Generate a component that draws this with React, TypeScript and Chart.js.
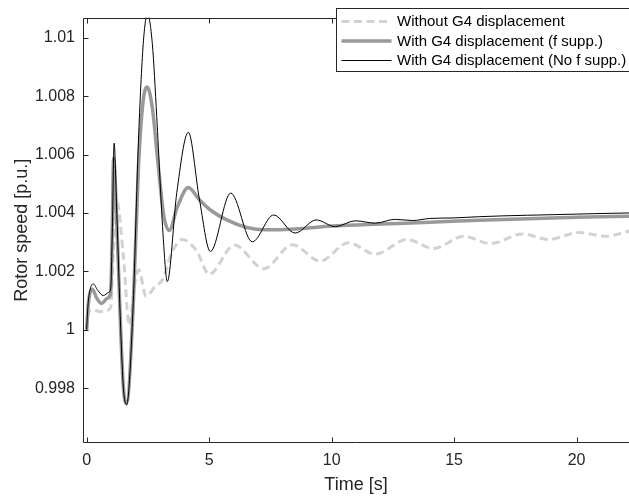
import React, { useEffect, useRef } from "react";
import { Chart, registerables } from "chart.js";

Chart.register(...registerables);

// ---- data ----
const timeNoG4 = [0, 0.05, 0.12, 0.27, 0.55, 0.8, 0.98, 1.08, 1.23, 1.5, 1.74, 1.97, 2.13, 2.42, 2.79, 3.13, 3.4, 3.9, 4.49, 5.0, 6.03, 7.23, 8.4, 9.53, 10.69, 11.78, 13.08, 14.16, 15.39, 16.48, 17.78, 18.86, 20.09, 21.18, 22.2];
const speedNoG4 = [1.0, 1.0004, 1.00065, 1.00068, 1.00062, 1.00066, 1.00075, 1.0025, 1.0044, 1.0025, 1.00015, 1.0016, 1.00205, 1.00115, 1.00148, 1.00176, 1.00248, 1.00309, 1.0027, 1.0019, 1.0029, 1.00209, 1.00291, 1.00235, 1.00298, 1.00259, 1.00309, 1.00278, 1.0032, 1.00295, 1.00328, 1.00309, 1.00333, 1.0032, 1.00339];

const timeFSupp = [0, 0.05, 0.12, 0.23, 0.4, 0.6, 0.85, 0.98, 1.04, 1.1, 1.23, 1.39, 1.5, 1.63, 1.9, 2.11, 2.3, 2.47, 2.68, 2.9, 3.15, 3.37, 3.7, 4.15, 4.6, 5.05, 5.72, 6.54, 7.3, 8.5, 10, 12, 14, 16, 18, 20, 22.2];
const speedFSupp = [1.0, 1.0007, 1.0012, 1.00139, 1.0011, 1.0009, 1.00108, 1.00126, 1.0032, 1.00587, 1.0037, 0.99995, 0.998, 0.99749, 1.0008, 1.0055, 1.0078, 1.00831, 1.0076, 1.0058, 1.0039, 1.0034, 1.0042, 1.00487, 1.00445, 1.0041, 1.00376, 1.0035, 1.00342, 1.00345, 1.00355, 1.00362, 1.00368, 1.00375, 1.0038, 1.00385, 1.00389];

const timeNoFSupp = [0, 0.05, 0.12, 0.27, 0.45, 0.68, 0.9, 0.98, 1.05, 1.12, 1.23, 1.39, 1.5, 1.63, 1.9, 2.11, 2.31, 2.48, 2.68, 2.86, 3.13, 3.29, 3.68, 4.15, 4.6, 5.05, 5.88, 6.76, 7.63, 8.51, 9.37, 10.15, 10.96, 11.78, 12.6, 13.3, 14, 15, 16, 17, 18, 19, 20, 21, 22.2];
const speedNoFSupp = [1.0, 1.0008, 1.0013, 1.00157, 1.00135, 1.00117, 1.00128, 1.0014, 1.0035, 1.00639, 1.004, 1.0, 0.998, 0.99742, 1.0009, 1.0064, 1.0098, 1.0108, 1.0098, 1.0073, 1.0031, 1.00165, 1.0047, 1.00676, 1.00448, 1.00268, 1.00468, 1.00301, 1.00393, 1.00331, 1.00376, 1.00353, 1.00373, 1.00365, 1.00378, 1.00374, 1.00381, 1.00383, 1.00387, 1.0039, 1.00392, 1.00394, 1.00396, 1.00398, 1.004];

const xTicks = [0, 5, 10, 15, 20];
const yTicks = [0.998, 1, 1.002, 1.004, 1.006, 1.008, 1.01];
const seriesLabels = [
  "Without G4 displacement",
  "With G4 displacement (f supp.)",
  "With G4 displacement (No f supp.)",
];
const xTitle = "Time [s]";
const yTitle = "Rotor speed [p.u.]";

const FONT = "Arial, 'Liberation Sans', Helvetica, sans-serif";
const AXIS = "#262626";
const DASH = [8, 4.5];

const styles = [
  { color: "#d2d2d2", width: 3, dash: DASH },
  { color: "#999999", width: 3.5, dash: [] as number[] },
  { color: "#000000", width: 1, dash: [] as number[] },
];

function toPoints(t: number[], v: number[]) {
  return t.map((x, i) => ({ x, y: v[i] }));
}

const framePlugin = {
  id: "frame",
  afterDatasetsDraw(chart: any) {
    const { ctx, chartArea: a, scales } = chart;
    ctx.save();
    ctx.strokeStyle = AXIS;
    ctx.lineWidth = 1;
    const L = Math.round(a.left) + 0.5;
    const T = Math.round(a.top) + 0.5;
    const B = Math.round(a.bottom) - 0.5;
    const R = a.right + 5;
    ctx.beginPath();
    ctx.moveTo(R, T);
    ctx.lineTo(L, T);
    ctx.lineTo(L, B);
    ctx.lineTo(R, B);
    for (const v of xTicks) {
      const px = Math.round(scales.x.getPixelForValue(v)) + 0.5;
      ctx.moveTo(px, B);
      ctx.lineTo(px, B - 5);
      ctx.moveTo(px, T);
      ctx.lineTo(px, T + 5);
    }
    for (const v of yTicks) {
      const py = Math.round(scales.y.getPixelForValue(v)) + 0.5;
      ctx.moveTo(L, py);
      ctx.lineTo(L + 5, py);
    }
    ctx.stroke();
    ctx.restore();
  },
  afterDraw(chart: any) {
    const { ctx } = chart;
    ctx.save();
    const bx = 336.5, by = 8.5, bw = 320, bh = 63;
    ctx.fillStyle = "#ffffff";
    ctx.fillRect(bx, by, bw, bh);
    ctx.strokeStyle = AXIS;
    ctx.lineWidth = 1;
    ctx.strokeRect(bx, by, bw, bh);
    const rows = [21.5, 41, 60.5];
    ctx.font = `15px ${FONT}`;
    ctx.textBaseline = "middle";
    ctx.textAlign = "left";
    seriesLabels.forEach((lab, i) => {
      const s = styles[i];
      ctx.beginPath();
      ctx.strokeStyle = s.color;
      ctx.lineWidth = s.width;
      ctx.setLineDash(s.dash);
      ctx.moveTo(341.5, rows[i]);
      ctx.lineTo(391.5, rows[i]);
      ctx.stroke();
      ctx.setLineDash([]);
      ctx.fillStyle = "#000000";
      ctx.fillText(lab, 397, rows[i] + 0.5);
    });
    ctx.restore();
  },
};

export default function App() {
  const ref = useRef<HTMLCanvasElement | null>(null);
  useEffect(() => {
    if (!ref.current) return;
    const series = [
      { t: timeNoG4, v: speedNoG4, order: 2 },
      { t: timeFSupp, v: speedFSupp, order: 1 },
      { t: timeNoFSupp, v: speedNoFSupp, order: 0 },
    ];
    const chart = new Chart(ref.current, {
      type: "line",
      data: {
        datasets: series.map((s, i) => ({
          label: seriesLabels[i],
          data: toPoints(s.t, s.v),
          borderColor: styles[i].color,
          borderWidth: styles[i].width,
          borderDash: styles[i].dash,
          pointRadius: 0,
          fill: false,
          cubicInterpolationMode: "monotone",
          order: s.order,
        })) as any,
      },
      options: {
        animation: false,
        responsive: false,
        devicePixelRatio: 1,
        layout: { padding: { top: 7, left: 0, right: 0, bottom: 0 } },
        plugins: { legend: { display: false }, tooltip: { enabled: false } },
        scales: {
          x: {
            type: "linear",
            min: -0.15,
            max: 22.14,
            afterBuildTicks: (s: any) => {
              s.ticks = xTicks.map((v) => ({ value: v }));
            },
            afterFit: (s: any) => {
              s.height = 55;
            },
            grid: { display: false, drawTicks: false, tickLength: 0 },
            border: { display: false },
            ticks: {
              font: { family: FONT, size: 16 },
              color: AXIS,
              padding: 8,
              maxRotation: 0,
              autoSkip: false,
            },
            title: {
              display: true,
              text: xTitle,
              font: { family: FONT, size: 18 },
              color: AXIS,
              padding: { top: 0, bottom: 2 },
            },
          },
          y: {
            type: "linear",
            min: 0.99612,
            max: 1.01069,
            afterBuildTicks: (s: any) => {
              s.ticks = yTicks.map((v) => ({ value: v }));
            },
            afterFit: (s: any) => {
              s.width = 83;
            },
            grid: { display: false, drawTicks: false, tickLength: 0 },
            border: { display: false },
            ticks: {
              font: { family: FONT, size: 16 },
              color: AXIS,
              padding: 8,
              autoSkip: false,
              callback: (v: any) => String(Number(Number(v).toFixed(3))),
            },
            title: {
              display: true,
              text: yTitle,
              font: { family: FONT, size: 18 },
              color: AXIS,
              padding: { top: 11, bottom: 0 },
            },
          },
        },
      } as any,
      plugins: [framePlugin],
    });
    return () => chart.destroy();
  }, []);
  return (
    <div style={{ position: "fixed", left: 0, top: 0, width: 629, height: 498, background: "#fff" }}>
      <canvas ref={ref} width={629} height={498} />
    </div>
  );
}
